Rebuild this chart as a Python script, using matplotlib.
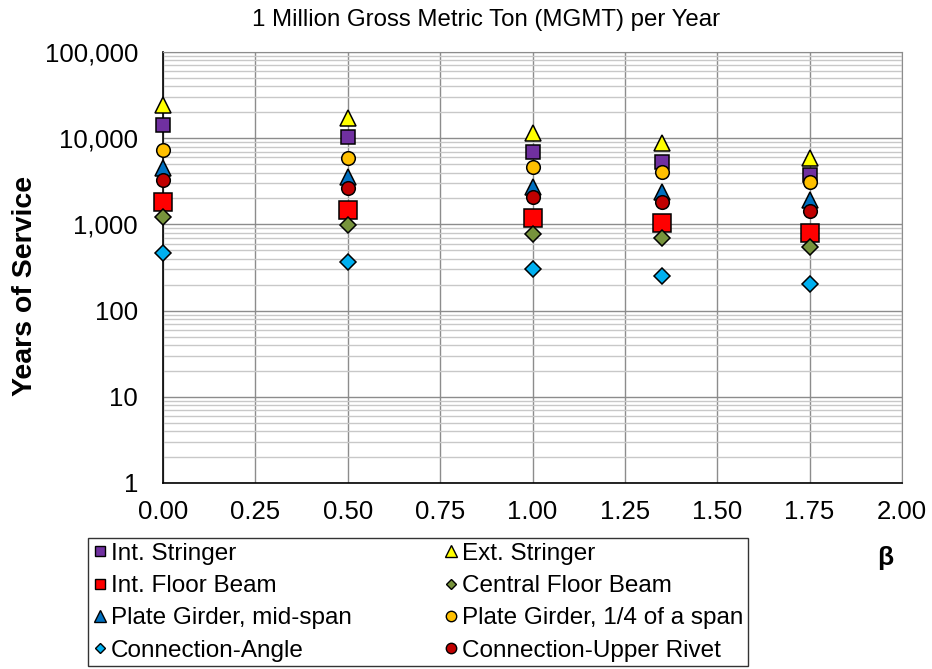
import numpy as np
import matplotlib
matplotlib.use('Agg')
import matplotlib.pyplot as plt
from matplotlib.lines import Line2D
from matplotlib.ticker import FuncFormatter, LogLocator, NullFormatter

plt.rcParams['font.family'] = ['Liberation Sans', 'DejaVu Sans']

# beta values
beta = [0.0, 0.5, 1.0, 1.35, 1.75]

# years of service for each detail
int_stringer = [14300, 10400, 6960, 5330, 3770]
ext_stringer = [24400, 17200, 11550, 8850, 5930]
int_floor_beam = [1835, 1484, 1198, 1050, 804]
central_floor_beam = [1230, 995, 783, 703, 553]
pg_mid_span = [4540, 3575, 2740, 2400, 1937]
pg_quarter_span = [7340, 5930, 4670, 4080, 3130]
conn_angle = [472, 371, 300, 249, 201]
conn_upper_rivet = [3300, 2670, 2100, 1835, 1445]

labels = ['Int. Stringer', 'Ext. Stringer', 'Int. Floor Beam', 'Central Floor Beam',
          'Plate Girder, mid-span', 'Plate Girder, 1/4 of a span',
          'Connection-Angle', 'Connection-Upper Rivet']

# (values, marker, colour, size in plot, size in legend)
series = [
    (int_stringer, 's', '#7030A0', 10, 7),
    (ext_stringer, '^', '#FFFF00', 12, 8),
    (int_floor_beam, 's', '#FF0000', 13.5, 7),
    (central_floor_beam, 'D', '#77933C', 8.5, 5.5),
    (pg_mid_span, '^', '#0070C0', 12, 8),
    (pg_quarter_span, 'o', '#FFC000', 9.8, 7.5),
    (conn_angle, 'D', '#00B0F0', 8.5, 5.5),
    (conn_upper_rivet, 'o', '#C00000', 9.8, 7.5),
]

fig = plt.figure(figsize=(9.32, 6.69), dpi=100)
ax = fig.add_axes([163/932, 1-483/669, (902-163)/932, (483-52)/669])

handles = []
for (vals, mk, col, ms, lms), lab in zip(series, labels):
    ax.plot(beta, vals, linestyle='none', marker=mk, markersize=ms,
            markerfacecolor=col, markeredgecolor='black', markeredgewidth=1.1,
            zorder=3, clip_on=False)
    handles.append(Line2D([], [], linestyle='none', marker=mk, markersize=lms,
                          markerfacecolor=col, markeredgecolor='black',
                          markeredgewidth=1.0))

ax.set_yscale('log')
ax.set_ylim(1, 100000)
ax.set_xlim(0, 2.0)
ax.set_xticks(np.arange(0, 2.01, 0.25))
ax.xaxis.set_major_formatter(FuncFormatter(lambda v, p: f'{v:.2f}'))
ax.yaxis.set_major_locator(LogLocator(base=10, numticks=10))
ax.yaxis.set_minor_locator(LogLocator(base=10, subs=np.arange(2, 10), numticks=20))
ax.yaxis.set_minor_formatter(NullFormatter())
ax.yaxis.set_major_formatter(FuncFormatter(lambda v, p: f'{int(round(v)):,}'))

ax.grid(True, which='major', axis='both', color='#8C8C8C', linewidth=1.0)
ax.grid(True, which='minor', axis='y', color='#C8C8C8', linewidth=1.0)
ax.set_axisbelow(True)
ax.tick_params(axis='both', which='both', length=0, labelsize=18.5)
ax.tick_params(axis='y', pad=18)
ax.tick_params(axis='x', pad=12)

for s in ['top', 'right']:
    ax.spines[s].set_color('#8C8C8C')
for s in ['left', 'bottom']:
    ax.spines[s].set_color('black')
    ax.spines[s].set_linewidth(1.2)

fig.text(486/932, 1-20/669, '1 Million Gross Metric Ton (MGMT) per Year',
         ha='center', va='center', fontsize=17.3)
fig.text(25/932, 1-286/669, 'Years of Service', rotation=90, ha='center', va='center',
         fontsize=20.5, fontweight='bold')
fig.text(885/932, 1-558/669, 'β', ha='center', va='center', fontsize=19, fontweight='bold')

# legend filled column-wise, so reorder to read row by row
order = [0, 2, 4, 6, 1, 3, 5, 7]
leg = fig.legend([handles[i] for i in order], [labels[i] for i in order],
                 loc='upper left', ncol=2, mode='expand',
                 bbox_to_anchor=(88/932, 1-538/669, 660/932, 0.0),
                 bbox_transform=fig.transFigure, fontsize=17.5, frameon=True,
                 fancybox=False, edgecolor='black', handlelength=0.6,
                 handletextpad=0.15, borderaxespad=0,
                 labelspacing=0.42, borderpad=0.2)
leg.get_frame().set_linewidth(1.0)

fig.savefig('out.png', dpi=100)
